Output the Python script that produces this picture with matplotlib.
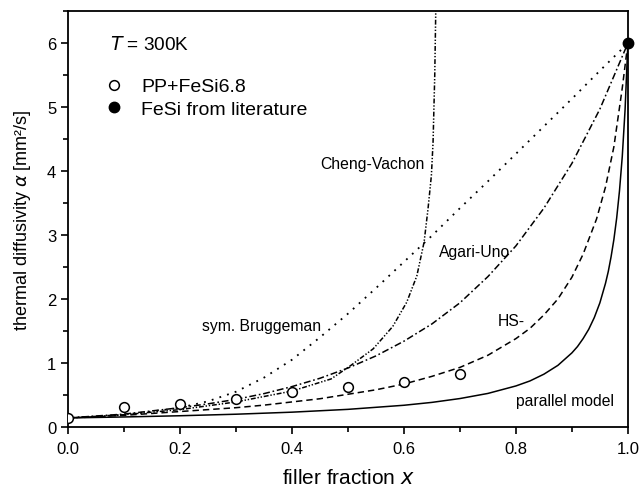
import matplotlib
matplotlib.use("Agg")
import matplotlib.pyplot as plt
from matplotlib.ticker import MultipleLocator

plt.rcParams['font.family'] = ['Liberation Sans', 'DejaVu Sans']

# measured points
x_meas = [0.0, 0.1, 0.2, 0.3, 0.4, 0.5, 0.6, 0.7]
a_meas = [0.14, 0.31, 0.35, 0.44, 0.55, 0.62, 0.70, 0.82]
x_lit = [1.0]
a_lit = [6.0]

# model curves
x_model = [0.0, 0.05, 0.1, 0.15, 0.2, 0.25, 0.3, 0.35, 0.4, 0.45, 0.5,
           0.55, 0.6, 0.65, 0.7, 0.75, 0.8, 0.85, 0.9, 0.95, 1.0]
a_brugg = [0.14, 0.16, 0.19, 0.24, 0.30, 0.40, 0.55, 0.77, 1.05, 1.40, 1.77,
           2.17, 2.58, 2.99, 3.42, 3.84, 4.27, 4.70, 5.13, 5.57, 6.0]
a_agari = [0.14, 0.17, 0.20, 0.25, 0.30, 0.36, 0.43, 0.52, 0.63, 0.76, 0.92,
           1.11, 1.34, 1.61, 1.94, 2.35, 2.83, 3.42, 4.12, 4.97, 6.0]

x_hs = [0.0, 0.05, 0.1, 0.15, 0.2, 0.25, 0.3, 0.35, 0.4, 0.45, 0.5, 0.55,
        0.6, 0.65, 0.7, 0.75, 0.8, 0.825, 0.85, 0.875, 0.9, 0.92, 0.944,
        0.96, 0.975, 0.99, 1.0]
a_hs = [0.14, 0.16, 0.18, 0.21, 0.24, 0.27, 0.30, 0.34, 0.39, 0.44, 0.51, 0.58,
        0.67, 0.79, 0.93, 1.12, 1.38, 1.54, 1.75, 2.00, 2.34, 2.70, 3.25,
        3.75, 4.38, 5.30, 6.0]

x_par = [0.0, 0.1, 0.2, 0.3, 0.4, 0.5, 0.6, 0.65, 0.7, 0.75, 0.8, 0.825,
         0.85, 0.875, 0.9, 0.91, 0.92, 0.93, 0.94, 0.95, 0.96, 0.965, 0.97,
         0.975, 0.98, 0.985, 0.99, 0.995, 1.0]
a_par = [0.14, 0.155, 0.174, 0.198, 0.230, 0.274, 0.338, 0.383, 0.443, 0.523,
         0.640, 0.718, 0.824, 0.962, 1.157, 1.256, 1.380, 1.525, 1.709, 1.940,
         2.244, 2.430, 2.660, 2.930, 3.266, 3.690, 4.230, 4.960, 6.0]

x_cheng = [0.0, 0.1, 0.2, 0.3, 0.4, 0.47, 0.505, 0.545, 0.58, 0.605, 0.623,
           0.636, 0.643, 0.649, 0.652, 0.655, 0.657]
a_cheng = [0.14, 0.19, 0.27, 0.39, 0.56, 0.75, 0.96, 1.22, 1.57, 1.95, 2.36,
           2.89, 3.41, 3.93, 4.45, 5.49, 6.6]

fig, ax = plt.subplots(figsize=(6.42, 4.89), dpi=100)
fig.subplots_adjust(left=0.106, right=0.978, bottom=0.125, top=0.975)

lw = 1.1
ax.plot(x_par, a_par, color='black', lw=lw)
ax.plot(x_hs, a_hs, color='black', lw=lw, dashes=(4.2, 2.6))
ax.plot(x_model, a_agari, color='black', lw=lw, dashes=(4.5, 1.8, 1.1, 1.8))
ax.plot(x_model, a_brugg, color='black', lw=lw * 1.2, dashes=(1.0, 3.4))
ax.plot(x_cheng, a_cheng, color='black', lw=lw, dashes=(3.2, 1.2, 0.9, 1.2, 0.9, 1.2))

ax.plot(x_meas, a_meas, 'o', mfc='white', mec='black', ms=7, mew=1.1,
        ls='none', label='PP+FeSi6.8', zorder=5)
ax.plot(x_lit, a_lit, 'o', color='black', ms=7.5, ls='none',
        label='FeSi from literature', clip_on=False, zorder=6)

ax.set_xlim(0, 1.0)
ax.set_ylim(0, 6.5)
ax.xaxis.set_major_locator(MultipleLocator(0.2))
ax.xaxis.set_minor_locator(MultipleLocator(0.1))
ax.yaxis.set_major_locator(MultipleLocator(1))
ax.yaxis.set_minor_locator(MultipleLocator(0.5))
ax.tick_params(which='both', direction='out', top=False, right=False,
               width=1.2, labelsize=12)
ax.tick_params(axis='x', pad=5)
ax.tick_params(which='major', length=5)
ax.tick_params(which='minor', length=3.5)
ax.xaxis.set_major_formatter(plt.FuncFormatter(lambda v, p: '%.1f' % v))
for s in ax.spines.values():
    s.set_linewidth(1.3)

ax.set_xlabel('filler fraction $x$', fontsize=15, labelpad=9)
ax.set_ylabel(r'thermal diffusivity $\alpha$ [mm²/s]', fontsize=13, labelpad=10)

ax.text(0.075, 0.92, '$T$ = 300K', transform=ax.transAxes, fontsize=13.7,
        va='center')
ax.legend(loc='upper left', bbox_to_anchor=(0.065, 0.84), frameon=False,
          fontsize=14, handlelength=1.0, handletextpad=0.9,
          labelspacing=0.25, borderaxespad=0, borderpad=0)

ax.text(0.45, 4.12, 'Cheng-Vachon', fontsize=11.3, ha='left', va='center')
ax.text(0.663, 2.74, 'Agari-Uno', fontsize=11.3, ha='left', va='center')
ax.text(0.24, 1.58, 'sym. Bruggeman', fontsize=11.3, ha='left', va='center')
ax.text(0.767, 1.66, 'HS-', fontsize=11.3, ha='left', va='center')
ax.text(0.8, 0.42, 'parallel model', fontsize=11.3, ha='left', va='center')

fig.savefig('out.png', dpi=100)
